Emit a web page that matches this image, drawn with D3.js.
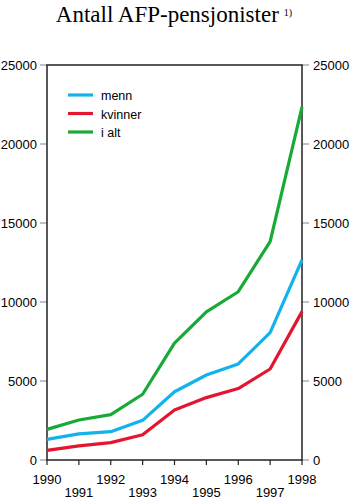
<!DOCTYPE html>
<html lang="no">
<head>
  <meta charset="UTF-8">
  <title>Antall AFP-pensjonister</title>
  <script src="https://d3js.org/d3.v7.min.js"></script>
  <style>
    body { margin: 0; background: #fff; }
    .lbl { font: 13px "Liberation Sans", Arial, sans-serif; fill: #000; }
    .title { font: 23px "Liberation Serif", "Times New Roman", serif; fill: #000; }
    .sup { font: 10px "Liberation Serif", serif; }
    .series { fill: none; stroke-width: 3.2px; stroke-linejoin: round; }
  </style>
</head>
<body>
  <svg width="350" height="500"></svg>
  <script>
    const years = [1990, 1991, 1992, 1993, 1994, 1995, 1996, 1997, 1998];
    const menn = [1310, 1650, 1790, 2510, 4320, 5380, 6080, 8060, 12660];
    const kvinner = [610, 890, 1100, 1600, 3170, 3950, 4520, 5760, 9390];
    const iAlt = [1940, 2530, 2870, 4160, 7400, 9370, 10650, 13820, 22340];
    const yTicks = [0, 5000, 10000, 15000, 20000, 25000];

    const seriesList = [
      { name: "menn", values: menn, color: "#12b2ec" },
      { name: "kvinner", values: kvinner, color: "#e3152f" },
      { name: "i alt", values: iAlt, color: "#17aa37" }
    ];

    const svg = d3.select("svg");
    const mLeft = 47, mRight = 302, mTop = 65, mBottom = 460;

    const x = d3.scaleLinear().domain([1990, 1998]).range([mLeft, mRight]);
    const y = d3.scaleLinear().domain([0, 25000]).range([mBottom, mTop]);

    // title
    const t = svg.append("text").attr("class", "title")
        .attr("x", 174).attr("y", 22).attr("text-anchor", "middle");
    t.append("tspan").text("Antall AFP-pensjonister");
    t.append("tspan").attr("class", "sup").attr("dx", 5).attr("dy", -6).text("1)");

    // y ticks (gray) left and right
    yTicks.forEach(v => {
      svg.append("line").attr("x1", mLeft - 7).attr("x2", mLeft)
          .attr("y1", y(v)).attr("y2", y(v)).attr("stroke", "#999").attr("stroke-width", 1.2);
      svg.append("line").attr("x1", mRight).attr("x2", mRight + 7)
          .attr("y1", y(v)).attr("y2", y(v)).attr("stroke", "#999").attr("stroke-width", 1.2);
      svg.append("text").attr("class", "lbl").attr("x", mLeft - 10).attr("y", y(v) + 5)
          .attr("text-anchor", "end").text(v);
      svg.append("text").attr("class", "lbl").attr("x", mRight + 11).attr("y", y(v) + 5)
          .text(v);
    });

    // frame
    svg.append("rect").attr("x", mLeft).attr("y", mTop)
        .attr("width", mRight - mLeft).attr("height", mBottom - mTop)
        .attr("fill", "none").attr("stroke", "#222").attr("stroke-width", 1.5);

    // x ticks and staggered labels
    years.forEach((yr, i) => {
      svg.append("line").attr("x1", x(yr)).attr("x2", x(yr))
          .attr("y1", mBottom).attr("y2", mBottom + 5).attr("stroke", "#222").attr("stroke-width", 1.2);
      svg.append("text").attr("class", "lbl").attr("x", x(yr))
          .attr("y", i % 2 === 0 ? 484 : 497).attr("text-anchor", "middle").text(yr);
    });

    // lines
    const line = d3.line().x((d, i) => x(years[i])).y(d => y(d));
    seriesList.forEach(s => {
      svg.append("path").attr("class", "series").attr("stroke", s.color)
          .attr("d", line(s.values));
    });

    // legend
    seriesList.forEach((s, i) => {
      const ly = 95 + i * 18.5;
      svg.append("line").attr("x1", 68).attr("x2", 93).attr("y1", ly).attr("y2", ly)
          .attr("stroke", s.color).attr("stroke-width", 3.2);
      svg.append("text").attr("class", "lbl").attr("x", 101).attr("y", ly + 5)
          .style("font-size", "12.5px").text(s.name);
    });
  </script>
</body>
</html>
